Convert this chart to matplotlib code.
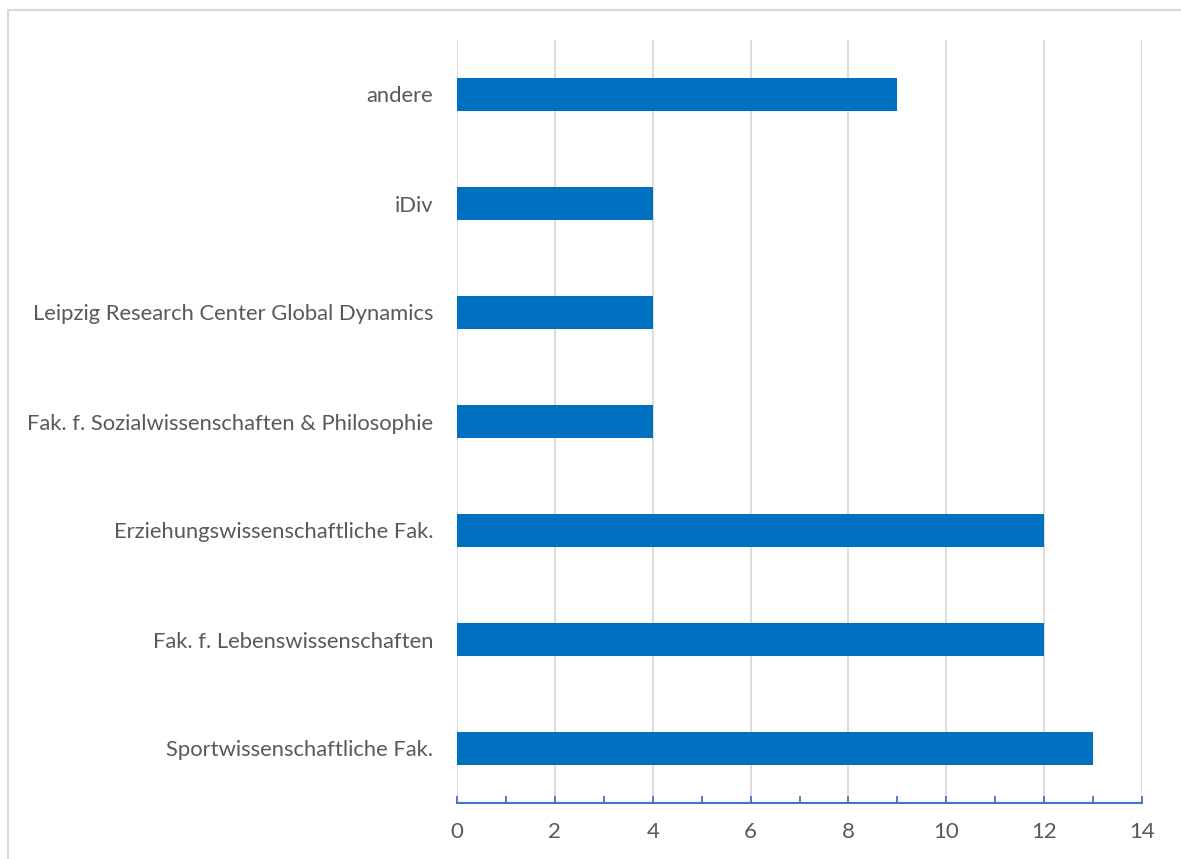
import matplotlib
matplotlib.use('Agg')
from matplotlib import pyplot as plt
from matplotlib.patches import Rectangle

categories = ["Sportwissenschaftliche Fak.",
              "Fak. f. Lebenswissenschaften",
              "Erziehungswissenschaftliche Fak.",
              "Fak. f. Sozialwissenschaften & Philosophie",
              "Leipzig Research Center Global Dynamics",
              "iDiv",
              "andere"]
values = [13, 12, 12, 4, 4, 4, 9]
xticks = [0, 2, 4, 6, 8, 10, 12, 14]

plt.rcParams['font.family'] = ['Lato', 'DejaVu Sans']

fig = plt.figure(figsize=(11.81, 8.59), dpi=100)
ax = fig.add_axes([457/1181, 56/859, 685/1181, 763/859])

ax.barh(range(len(categories)), values, height=0.3, color='#0070C0', zorder=3)

ax.set_xlim(0, 14)
ax.set_ylim(-0.5, len(categories) - 0.5)
ax.set_xticks(xticks)
ax.set_xticks(range(15), minor=True)
ax.set_yticks(range(len(categories)))
ax.set_yticklabels(categories)

ax.grid(axis='x', color='#D9D9D9', linewidth=1.3, zorder=0)
for s in ['top', 'right', 'left']:
    ax.spines[s].set_visible(False)
ax.spines['bottom'].set_color('#4472C4')
ax.spines['bottom'].set_linewidth(1.5)

ax.tick_params(axis='x', which='both', direction='in', length=5, width=1.3,
               color='#4472C4', labelsize=16, labelcolor='#595959', pad=14)
ax.tick_params(axis='y', length=0, labelsize=15.8, labelcolor='#595959', pad=17)

# outer chart border
fig.patches.append(Rectangle((8/1181, -0.1), 1.2, (859 - 10)/859 + 0.1,
                             transform=fig.transFigure, fill=False,
                             edgecolor='#D9D9D9', linewidth=1.5))

plt.savefig('out.png', dpi=100)
